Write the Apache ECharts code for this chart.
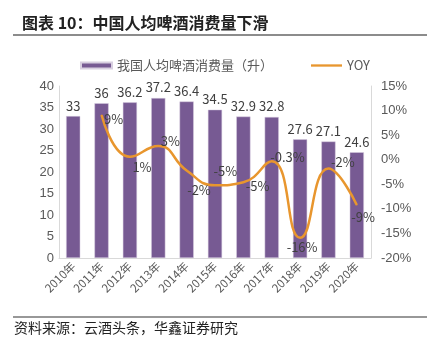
<!DOCTYPE html>
<html><head><meta charset="utf-8">
<script src="https://cdn.jsdelivr.net/npm/echarts@6/dist/echarts.min.js"></script>
<style>html,body{margin:0;padding:0;background:#fff}#c{width:436px;height:341px}</style>
</head><body><div id="c"></div>
<script>
const categories = ['2010年','2011年','2012年','2013年','2014年','2015年','2016年','2017年','2018年','2019年','2020年'];
const consumption = [33, 36, 36.2, 37.2, 36.4, 34.5, 32.9, 32.8, 27.6, 27.1, 24.6];
const yoy = [null, 9.1, 0.6, 2.8, -2.2, -5.2, -4.6, -0.3, -15.9, -1.8, -9.2];
const yoyLabels = ['', '9%', '1%', '3%', '-2%', '-5%', '-5%', '-0.3%', '-16%', '-2%', '-9%'];
const leftTicks = [0, 40, 5];
const rightTicks = [-20, 15, 5];

// label placement (style only)
const labelPlace = [
  null,
  {position:'right', offset:[0,4]},
  {position:'right', offset:[0,10]},
  {position:'right', offset:[0,-5]},
  {position:'right', offset:[-2,20]},
  {position:'right', offset:[-4,-14]},
  {position:'right', offset:[0,4]},
  {position:'right', offset:[-4,-4]},
  {position:'bottom', offset:[2,0]},
  {position:'right', offset:[0,-6]},
  {position:'right', offset:[-8,12]}
];

const chart = echarts.init(document.getElementById('c'), null, {renderer:'canvas'});
const grey = '#595959';
const numFont = 'Liberation Sans, Arial, sans-serif';
const cjk = '"Noto Sans CJK SC", sans-serif';

chart.setOption({
  animation:false,
  grid:{left:59, right:65, top:86, bottom:83, containLabel:false},
  legend:{
    top:54, left:75, itemGap:38, itemWidth:31, itemHeight:6,
    textStyle:{color:grey, fontSize:13, fontFamily:cjk},
    data:[
      {name:'我国人均啤酒消费量（升）', icon:'rect'},
      {name:'YOY', icon:'path://M0,0 L40,0 L40,3 L0,3 Z'}
    ]
  },
  xAxis:{
    type:'category', data:categories,
    axisLine:{lineStyle:{color:'#d9d9d9'}},
    axisTick:{show:false},
    axisLabel:{rotate:45, color:grey, fontSize:11.5, fontFamily:cjk, interval:0, margin:6}
  },
  yAxis:[
    {type:'value', min:leftTicks[0], max:leftTicks[1], interval:leftTicks[2],
     axisLine:{show:true, lineStyle:{color:'#d9d9d9'}}, axisTick:{show:false},
     splitLine:{show:false},
     axisLabel:{color:grey, fontSize:13, fontFamily:numFont, margin:5}},
    {type:'value', min:rightTicks[0], max:rightTicks[1], interval:rightTicks[2],
     axisLine:{show:true, lineStyle:{color:'#d9d9d9'}}, axisTick:{show:false},
     splitLine:{show:false},
     axisLabel:{color:grey, fontSize:13, fontFamily:numFont, margin:10, formatter:v=>v+'%'}}
  ],
  series:[
    {name:'我国人均啤酒消费量（升）', type:'bar', data:consumption, barWidth:'50%',
     itemStyle:{color:'#775a93', borderColor:'#d8cfe0', borderWidth:0.5},
     label:{show:true, position:'top', distance:4, color:'#404040', fontSize:13, fontFamily:cjk}},
    {name:'YOY', type:'line', yAxisIndex:1, smooth:0.5,
     data: yoy.map((v,i)=> v===null ? {value:null} : {value:v, label:Object.assign({show:true, formatter:yoyLabels[i]}, labelPlace[i])}),
     symbol:'circle', symbolSize:1, showSymbol:true,
     lineStyle:{color:'#e8962e', width:2.5},
     itemStyle:{color:'#e8962e'},
     label:{color:'#404040', fontSize:13, fontFamily:cjk, distance:2}}
  ],
  graphic:[
    {type:'text', left:22, top:15, style:{text:'图表 10：中国人均啤酒消费量下滑', font:'bold 16px "Noto Sans CJK SC"', fill:'#222'}},
    {type:'rect', shape:{x:13, y:34, width:414, height:2}, style:{fill:'#8c8c8c'}},
    {type:'rect', shape:{x:13, y:316.5, width:414, height:1}, style:{fill:'#333'}},
    {type:'text', left:14, top:321, style:{text:'资料来源：云酒头条，华鑫证券研究', font:'14px "Noto Sans CJK SC"', fill:'#222'}}
  ]
});
</script></body></html>
